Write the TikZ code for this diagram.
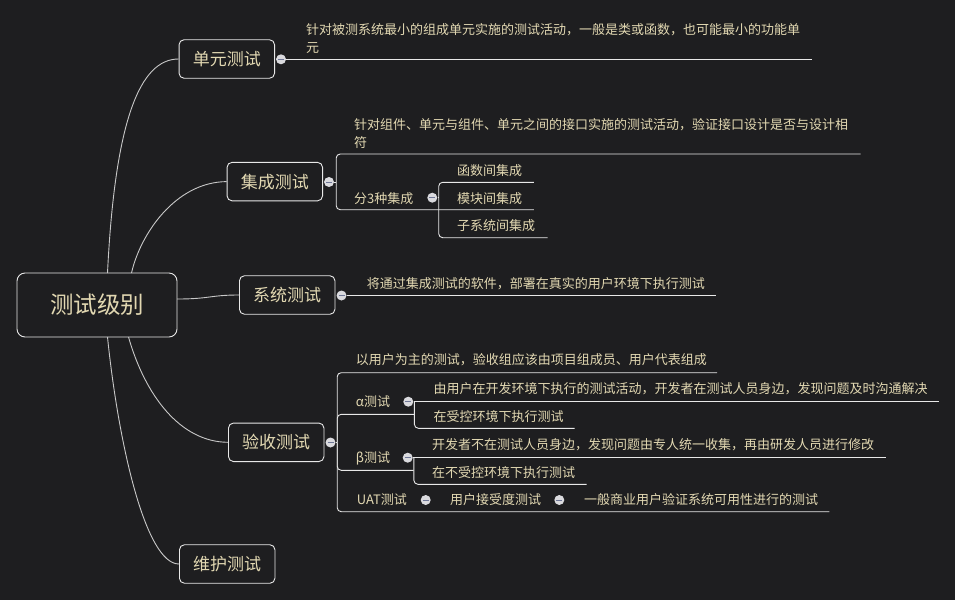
\documentclass[tikz,border=0pt]{standalone}
\usepackage{fontspec}
\setmainfont{Noto Sans CJK SC}
\definecolor{bg}{RGB}{30,30,32}
\definecolor{txt}{RGB}{226,216,178}
\definecolor{ln}{RGB}{232,232,232}
\definecolor{cv}{RGB}{200,200,200}
\definecolor{dotfill}{RGB}{218,218,222}
\definecolor{dotmark}{RGB}{110,118,150}
\begin{document}
\begin{tikzpicture}[x=1pt,y=-1pt,
  every node/.style={text=txt},
  small/.style={font=\fontsize{13}{15}\selectfont, anchor=west, inner sep=0pt},
  lvlone/.style={draw=ln, rounded corners=5pt, line width=0.9pt, minimum width=95.5pt, minimum height=38.5pt, inner sep=0pt, font=\fontsize{17}{20}\selectfont},
  rootbox/.style={draw=ln, rounded corners=8pt, line width=0.9pt, minimum width=160pt, minimum height=64pt, inner sep=0pt, font=\fontsize{23.5}{26}\selectfont},
  dotn/.style={circle, fill=dotfill, minimum size=10pt, inner sep=0pt,
    path picture={\draw[dotmark, line width=1pt] ([xshift=-3pt]path picture bounding box.center) -- ([xshift=3pt]path picture bounding box.center);}},
  conn/.style={draw=ln, line width=0.9pt},
  curve/.style={draw=cv, line width=0.9pt},
  rc/.style={rounded corners=4pt}]
\useasboundingbox (0,0) rectangle (955,600);
\fill[bg] (0,0) rectangle (955,600);

% main boxes
\node[rootbox] (root) at (97,305) {测试级别};
\node[lvlone] (unit) at (226.8,59) {单元测试};
\node[lvlone] (integ) at (274.8,181.6) {集成测试};
\node[lvlone] (sys) at (287.2,295) {系统测试};
\node[lvlone] (acc) at (276.2,442.3) {验收测试};
\node[lvlone] (maint) at (227.2,564) {维护测试};

% root connectors
\coordinate (r1) at (107.5,273);
\coordinate (r2) at (131.5,273);
\coordinate (r3) at (177,299);
\coordinate (r4) at (128.5,337);
\coordinate (r5) at (107.5,337);
\draw[curve] (r1) .. controls (115,120) and (140,59) .. (unit.west);
\draw[curve] (r2) .. controls (140,235) and (175,182) .. (integ.west);
\draw[curve] (r3) .. controls (210,299) and (210,295) .. (sys.west);
\draw[curve] (r4) .. controls (145,395) and (180,442) .. (acc.west);
\draw[curve] (r5) .. controls (118,440) and (145,564) .. (maint.west);

% dots
\node[dotn] (d1) at (281,59.3) {};
\node[dotn] (d2) at (329,182) {};
\node[dotn] (d3) at (432.3,197.7) {};
\node[dotn] (d4) at (341.5,295.5) {};
\node[dotn] (d5) at (330.5,442.5) {};
\node[dotn] (da) at (408.3,401.7) {};
\node[dotn] (db) at (407.7,457.7) {};
\node[dotn] (du1) at (425.7,500) {};
\node[dotn] (du2) at (559.3,500) {};

% unit test
\coordinate (e1) at (811.5,59.3);
\draw[conn] (d1) -- (e1);
\node[small] (u1a) at (306,30) {针对被测系统最小的组成单元实施的测试活动，一般是类或函数，也可能最小的功能单};
\node[small] (u1b) at (306,47.7) {元};

% integration test
\coordinate (ie1) at (860.5,154);
\coordinate (ie2) at (533.8,209.7);
\coordinate (ie3) at (533.8,182.3);
\coordinate (ie4) at (547.5,237.7);
\draw[conn] (d2.east) -- ++(2,0) coordinate (b2);
\draw[conn,rc] (b2) |- (ie1);
\draw[conn,rc] (b2) |- (ie2);
\draw[conn] (d3.east) -- ++(1.2,0) coordinate (b3);
\draw[conn,rc] (b3) |- (ie3);
\draw[conn,rc] (b3) |- (ie4);
\node[small] (i1a) at (354,125) {针对组件、单元与组件、单元之间的接口实施的测试活动，验证接口设计是否与设计相};
\node[small] (i1b) at (354,142.3) {符};
\node[small] (i2) at (354,198.3) {分3种集成};
\node[small] (i3) at (457,170.7) {函数间集成};
\node[small] (i4) at (457,198.3) {模块间集成};
\node[small] (i5) at (457,226) {子系统间集成};

% system test
\coordinate (se1) at (716,295.5);
\draw[conn] (d4) -- (se1);
\node[small] (s1) at (366.7,283.3) {将通过集成测试的软件，部署在真实的用户环境下执行测试};

% acceptance test
\coordinate (ae1) at (717,372.7);
\coordinate (ae2) at (414.2,414.3);
\coordinate (ae3) at (413.7,470.3);
\coordinate (ae4) at (829.4,511.7);
\draw[conn] (d5.east) -- ++(1.5,0) coordinate (b5);
\draw[conn,rc] (b5) |- (ae1);
\draw[conn,rc] (b5) |- (ae2);
\draw[conn,rc] (b5) |- (ae3);
\draw[conn,rc] (b5) |- (ae4);

\coordinate (aa1) at (938.8,401.7);
\coordinate (aa2) at (574.5,428.3);
\draw[conn] (da.east) -- ++(0.9,0) coordinate (ba);
\draw[conn] (ba) -- (aa1);
\draw[conn,rc] (ba) |- (aa2);

\coordinate (ab1) at (885.7,457.7);
\coordinate (ab2) at (586.5,484.3);
\draw[conn] (db.east) -- ++(1,0) coordinate (bb);
\draw[conn] (bb) -- (ab1);
\draw[conn,rc] (bb) |- (ab2);

\node[small] (a1) at (355.7,360) {以用户为主的测试，验收组应该由项目组成员、用户代表组成};
\node[small] (a2) at (355.7,402) {α测试};
\node[small] (a3) at (433.5,388.3) {由用户在开发环境下执行的测试活动，开发者在测试人员身边，发现问题及时沟通解决};
\node[small] (a4) at (433.5,416.7) {在受控环境下执行测试};
\node[small] (a5) at (355.7,458) {β测试};
\node[small] (a6) at (432,444.3) {开发者不在测试人员身边，发现问题由专人统一收集，再由研发人员进行修改};
\node[small] (a7) at (432,472.7) {在不受控环境下执行测试};
\node[small] (a8) at (356.7,500) {UAT测试};
\node[small] (a9) at (450,500) {用户接受度测试};
\node[small] (a10) at (584,500) {一般商业用户验证系统可用性进行的测试};
\end{tikzpicture}
\end{document}
